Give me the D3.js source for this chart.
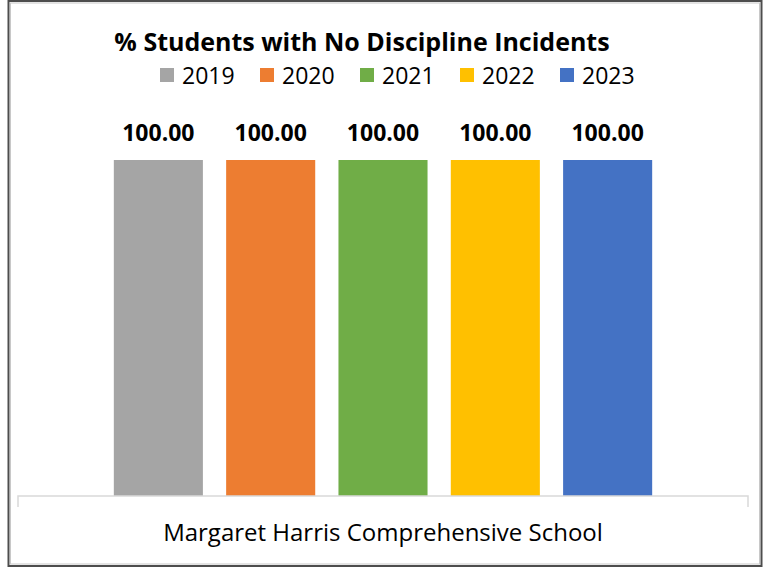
<!DOCTYPE html>
<html>
<head>
<meta charset="utf-8">
<script src="https://cdn.jsdelivr.net/npm/d3@7"></script>
<style>
  html, body { margin: 0; padding: 0; background: #fff; }
  svg { display: block; }
  text { font-family: "Open Sans", sans-serif; fill: #000; }
</style>
</head>
<body>
<svg id="chart" width="772" height="569"></svg>
<script>
const title = "% Students with No Discipline Incidents";
const categories = ["Margaret Harris Comprehensive School"];
const years = ["2019", "2020", "2021", "2022", "2023"];
const values = [100.00, 100.00, 100.00, 100.00, 100.00];
const colors = ["#A5A5A5", "#ED7D31", "#70AD47", "#FFC000", "#4472C4"];

const svg = d3.select("#chart");

// outer frame
svg.append("rect").attr("x", 8.5).attr("y", 1).attr("width", 753).attr("height", 565)
  .attr("fill", "#fff").attr("stroke", "#4d4d4d").attr("stroke-width", 2);
svg.append("rect").attr("x", 10.5).attr("y", 3).attr("width", 749).attr("height", 561)
  .attr("fill", "none").attr("stroke", "#c8c8c8").attr("stroke-width", 1);

const plotLeft = 18, plotRight = 748, baseY = 496, topY = 160;

const x0 = d3.scaleBand().domain(categories).range([plotLeft, plotRight]).paddingOuter(0.178).paddingInner(0);
const x1 = d3.scaleBand().domain(years).range([0, x0.bandwidth()]).paddingInner(0.207).paddingOuter(0);
const y = d3.scaleLinear().domain([0, 100]).range([baseY, topY]);
const color = d3.scaleOrdinal().domain(years).range(colors);

// title
svg.append("text").attr("x", 362).attr("y", 51).attr("text-anchor", "middle")
  .attr("font-size", 25).attr("font-weight", "bold").text(title);

// legend
const leg = svg.append("g");
years.forEach((yr, i) => {
  const lx = 160 + i * 100;
  leg.append("rect").attr("x", lx).attr("y", 68).attr("width", 14).attr("height", 14).attr("fill", color(yr));
  leg.append("text").attr("x", lx + 22).attr("y", 84).attr("font-size", 23).attr("font-weight", 500).text(yr);
});

// bars
const g = svg.append("g");
categories.forEach(cat => {
  const gx = x0(cat);
  years.forEach((yr, i) => {
    g.append("rect")
      .attr("x", gx + x1(yr)).attr("y", y(values[i]))
      .attr("width", x1.bandwidth()).attr("height", y(0) - y(values[i]))
      .attr("fill", color(yr));
    g.append("text")
      .attr("x", gx + x1(yr) + x1.bandwidth() / 2).attr("y", y(values[i]) - 19)
      .attr("text-anchor", "middle").attr("font-size", 23).attr("font-weight", "bold")
      .text(values[i].toFixed(2));
  });
});

// axis
const axis = d3.axisBottom(x0).tickSize(0).tickFormat("");
const ax = svg.append("g").attr("transform", `translate(0,${baseY})`).call(axis);
ax.select(".domain").remove();
svg.append("path")
  .attr("d", `M${plotLeft},${baseY + 11}V${baseY}H${plotRight}V${baseY + 11}`)
  .attr("fill", "none").attr("stroke", "#d9d9d9").attr("stroke-width", 1.5);

// category label
categories.forEach(cat => {
  svg.append("text").attr("x", x0(cat) + x0.bandwidth() / 2).attr("y", 541)
    .attr("text-anchor", "middle").attr("font-size", 24).attr("font-weight", 500).text(cat);
});
</script>
</body>
</html>
